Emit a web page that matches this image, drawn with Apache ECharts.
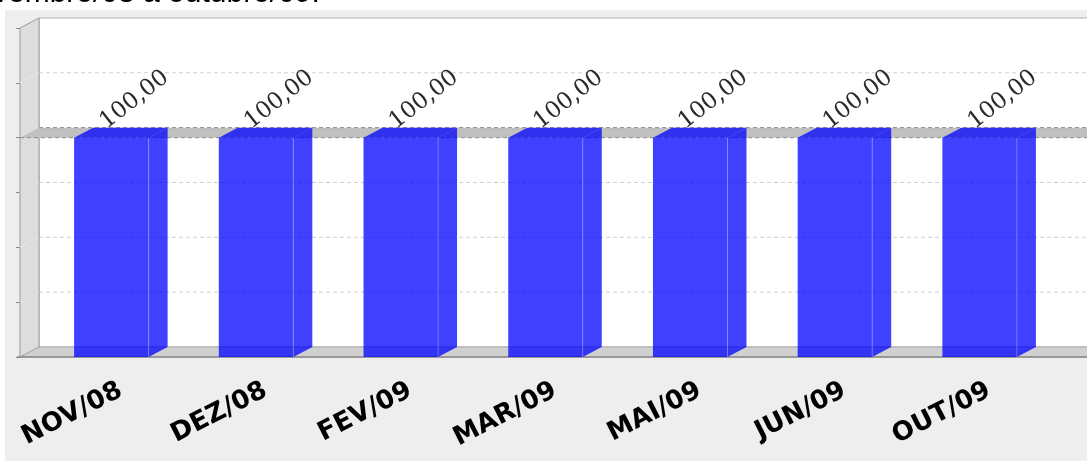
<!DOCTYPE html>
<html>
<head>
<meta charset="utf-8">
<script src="https://cdn.jsdelivr.net/npm/echarts@6/dist/echarts.min.js"></script>
<style>
html,body{margin:0;padding:0;background:#fff;}
#chart{width:1087px;height:461px;}
</style>
</head>
<body>
<div id="chart"></div>
<script>
const titleText = 'vembro/08 a outubro/09.';
const categories = ['NOV/08', 'DEZ/08', 'FEV/09', 'MAR/09', 'MAI/09', 'JUN/09', 'OUT/09'];
const values = [100, 100, 100, 100, 100, 100, 100];
const yTicks = [0, 25, 50, 75, 100, 125, 150];
const markerValues = [100];

const DX = 19, DY = 10;          // 3D depth offset
const PAD_L = 28.5, PAD_R = 25.5; // plot extends beyond category bands

function fmt(v) { return v.toFixed(2).replace('.', ','); }

const chart = echarts.init(document.getElementById('chart'));

function bgRender(params, api) {
  const cs = params.coordSys;
  const left = cs.x - PAD_L;
  const right = cs.x + cs.width + PAD_R;
  const yTop = api.coord([0, yTicks[yTicks.length - 1]])[1];
  const yBot = api.coord([0, yTicks[0]])[1];
  const children = [];
  children.push({type: 'rect', shape: {x: left + DX, y: yTop - DY, width: right - left, height: yBot - yTop},
    style: {fill: '#ffffff', stroke: '#b0b0b0', lineWidth: 1}});
  yTicks.slice(1, -1).forEach(function (t) {
    const y = api.coord([0, t])[1];
    children.push({type: 'line', shape: {x1: left + DX, y1: y - DY, x2: right + DX, y2: y - DY},
      style: {stroke: '#d0d0d0', lineWidth: 1, lineDash: [4, 3]}});
  });
  children.push({type: 'polygon', shape: {points: [[left, yTop], [left + DX, yTop - DY], [left + DX, yBot - DY], [left, yBot]]},
    style: {fill: '#dddddd', stroke: '#9a9a9a', lineWidth: 1}});
  yTicks.slice(1, -1).forEach(function (t) {
    const y = api.coord([0, t])[1];
    children.push({type: 'line', shape: {x1: left, y1: y, x2: left + DX, y2: y - DY},
      style: {stroke: '#ececec', lineWidth: 1, lineDash: [3, 3]}});
  });
  children.push({type: 'polygon', shape: {points: [[left, yBot], [left + DX, yBot - DY], [right + DX, yBot - DY], [right, yBot]]},
    style: {fill: '#d0d0d0', stroke: '#a8a8a8', lineWidth: 1}});
  children.push({type: 'line', shape: {x1: left - 3, y1: yBot, x2: right, y2: yBot},
    style: {stroke: '#8a8a8a', lineWidth: 1.5}});
  markerValues.forEach(function (m) {
    const y = api.coord([0, m])[1];
    children.push({type: 'polygon', shape: {points: [[left, y], [left + DX, y - DY], [right + DX, y - DY], [right, y]]},
      style: {fill: '#c0c0c0', stroke: 'none'}});
    children.push({type: 'line', shape: {x1: left, y1: y, x2: right, y2: y},
      style: {stroke: '#8c8c8c', lineWidth: 1, lineDash: [4, 3]}});
    children.push({type: 'line', shape: {x1: left + DX, y1: y - DY, x2: right + DX, y2: y - DY},
      style: {stroke: '#8c8c8c', lineWidth: 1, lineDash: [4, 3]}});
  });
  return {type: 'group', children: children};
}

function barRender(params, api) {
  const idx = api.value(0);
  const val = api.value(1);
  const top = api.coord([idx, val]);
  const base = api.coord([idx, 0]);
  const bw = api.size([1, 0])[0] * 0.515;
  const cx = top[0] - DX / 2;
  const x0 = cx - bw / 2, x1 = cx + bw / 2;
  const ty = top[1], by = base[1];
  const fill = 'rgba(0,0,255,0.75)';
  return {type: 'group', children: [
    {type: 'rect', shape: {x: x0, y: ty, width: bw, height: by - ty}, style: {fill: fill}},
    {type: 'polygon', shape: {points: [[x0, ty], [x0 + DX, ty - DY], [x1 + DX, ty - DY], [x1, ty]]}, style: {fill: fill}},
    {type: 'polygon', shape: {points: [[x1, ty], [x1 + DX, ty - DY], [x1 + DX, by - DY], [x1, by]]}, style: {fill: fill}},
    {type: 'line', shape: {x1: x1, y1: ty, x2: x1, y2: by}, style: {stroke: 'rgba(255,255,255,0.25)', lineWidth: 1}},
    {type: 'text', x: top[0] - 11, y: ty - 4, rotation: 38 * Math.PI / 180,
      style: {text: fmt(val), x: 0, y: 0, fill: '#2a2a2a', font: '23px "DejaVu Serif"',
        textAlign: 'left', textVerticalAlign: 'bottom'}}
  ]};
}

chart.setOption({
  animation: false,
  backgroundColor: '#ffffff',
  graphic: [
    {type: 'rect', z: -10, shape: {x: 5, y: 10, width: 1082, height: 451}, style: {fill: '#eeeeee'}},
    {type: 'text', z: -5, x: -7, y: -6, style: {text: titleText, fill: '#000', font: '30px "Liberation Sans"',
      textAlign: 'left', textVerticalAlign: 'middle'}}
  ],
  grid: {left: 48.5, right: 25.5, top: 28, bottom: 104, containLabel: false},
  xAxis: {
    type: 'category', data: categories, boundaryGap: true,
    axisLine: {show: false}, axisTick: {show: false},
    axisLabel: {rotate: 27, margin: 32, color: '#000', fontSize: 26, fontWeight: 'bold',
      fontFamily: 'DejaVu Sans', interval: 0}
  },
  yAxis: {
    type: 'value', min: 0, max: 150, interval: 25, offset: 28.5,
    axisLine: {show: false}, axisLabel: {show: false}, splitLine: {show: false},
    axisTick: {show: true, length: 4, lineStyle: {color: '#888'}}
  },
  series: [
    {type: 'custom', z: 1, renderItem: bgRender, data: [[0, 0]], silent: true, clip: false},
    {type: 'custom', z: 2, renderItem: barRender, clip: false,
      data: values.map(function (v, i) { return [i, v]; })}
  ]
});
</script>
</body>
</html>
